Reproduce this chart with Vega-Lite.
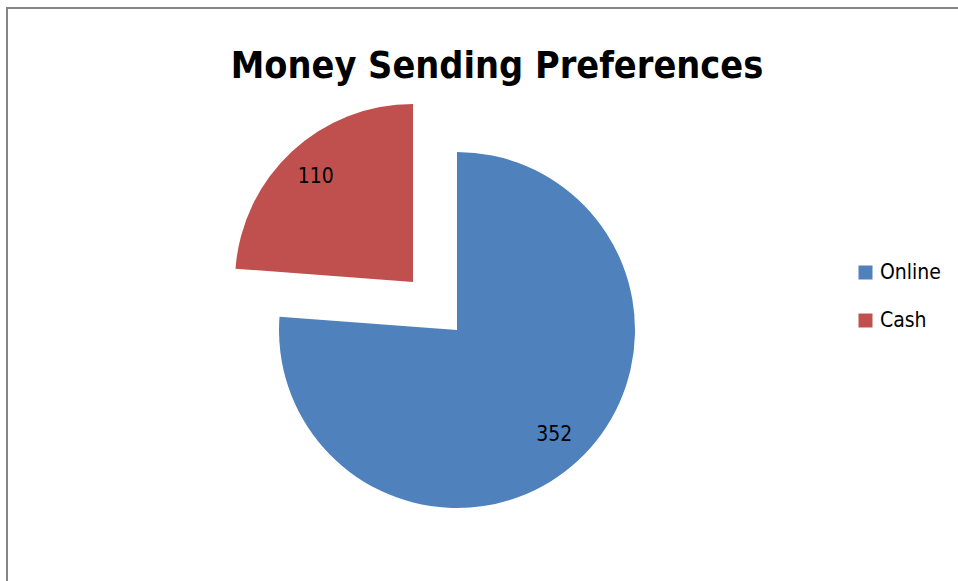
{
  "$schema": "https://vega.github.io/schema/vega-lite/v6.json",
  "autosize": {"type": "none"},
  "padding": {"left": 7, "top": 8, "right": 0, "bottom": 0},
  "width": 960,
  "height": 600,
  "background": "white",
  "config": {
    "view": {"stroke": "#868686", "strokeWidth": 2},
    "style": {"view": {"stroke": "#868686", "strokeWidth": 2}},
    "font": "DejaVu Sans Condensed, Roboto, sans-serif"
  },
  "title": {
    "text": "Money Sending Preferences",
    "font": "DejaVu Sans Condensed, Roboto, sans-serif",
    "fontSize": 37.5,
    "fontWeight": "bold",
    "color": "black",
    "anchor": "middle",
    "dx": 10,
    "dy": 81
  },
  "data": {
    "values": [
      {"category": "Online", "value": 352},
      {"category": "Cash", "value": 110}
    ]
  },
  "encoding": {
    "theta": {"field": "value", "type": "quantitative", "stack": true},
    "order": {"field": "value", "type": "quantitative", "sort": "descending"},
    "color": {
      "field": "category",
      "type": "nominal",
      "sort": ["Online", "Cash"],
      "scale": {"domain": ["Online", "Cash"], "range": ["#4F81BD", "#C0504D"]},
      "legend": {
        "title": null,
        "orient": "none",
        "legendX": 848,
        "legendY": 254,
        "symbolType": "square",
        "symbolSize": 196,
        "symbolStrokeWidth": 0,
        "labelFont": "DejaVu Sans Condensed, Roboto, sans-serif",
        "labelFontSize": 21,
        "labelColor": "black",
        "rowPadding": 26,
        "labelOffset": 4
      }
    }
  },
  "layer": [
    {
      "mark": {"type": "arc", "outerRadius": 178, "xOffset": -30, "yOffset": 22},
      "encoding": {
        "opacity": {"condition": {"test": "datum.category === 'Cash'", "value": 0}, "value": 1}
      }
    },
    {
      "mark": {"type": "arc", "outerRadius": 178, "xOffset": -74, "yOffset": -26},
      "encoding": {
        "opacity": {"condition": {"test": "datum.category === 'Online'", "value": 0}, "value": 1}
      }
    },
    {
      "mark": {"type": "text", "radius": 143, "xOffset": -30, "yOffset": 22, "fontSize": 21},
      "encoding": {
        "text": {"field": "value", "type": "quantitative"},
        "color": {"value": "black"},
        "opacity": {"condition": {"test": "datum.category === 'Cash'", "value": 0}, "value": 1}
      }
    },
    {
      "mark": {"type": "text", "radius": 143, "xOffset": -74, "yOffset": -26, "fontSize": 21},
      "encoding": {
        "text": {"field": "value", "type": "quantitative"},
        "color": {"value": "black"},
        "opacity": {"condition": {"test": "datum.category === 'Online'", "value": 0}, "value": 1}
      }
    }
  ]
}
